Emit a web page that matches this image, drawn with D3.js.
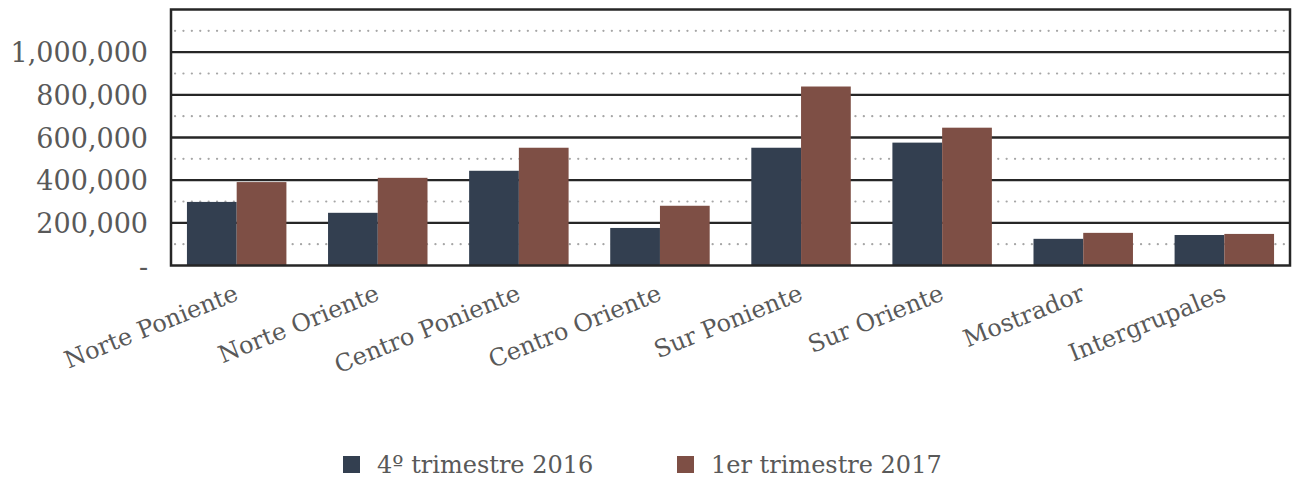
<!DOCTYPE html>
<html>
<head>
<meta charset="utf-8">
<script src="https://cdn.jsdelivr.net/npm/d3@7"></script>
<style>
	body { margin: 0; background: #fff; }
	text { font-family: "DejaVu Serif", serif; fill: #595959; }
</style>
</head>
<body>
<svg id="chart" width="1292" height="479"></svg>
<script>
// Chart data
const categories = ["Norte Poniente", "Norte Oriente", "Centro Poniente", "Centro Oriente",
	"Sur Poniente", "Sur Oriente", "Mostrador", "Intergrupales"]
const seriesNames = ["4º trimestre 2016", "1er trimestre 2017"]
const q4_2016 = [298000, 247000, 444000, 176000, 552000, 576000, 125000, 143000]
const q1_2017 = [391000, 411000, 552000, 280000, 839000, 646000, 153000, 148000]
const yTicks = [0, 200000, 400000, 600000, 800000, 1000000]
const yMinorTicks = [100000, 300000, 500000, 700000, 900000, 1100000]
const colours = ["#333f50", "#7e4f45"]

const margin = { top: 9.5, left: 171, right: 2, bottom: 213.5 }
const width = 1292 - margin.left - margin.right
const height = 479 - margin.top - margin.bottom

const svg = d3.select("#chart")
const g = svg.append("g")
	.attr("transform", `translate(${margin.left}, ${margin.top})`)

const x = d3.scaleBand()
	.domain(categories)
	.range([0, width])
	.paddingInner(0.295)
	.paddingOuter(0.113)

const xSeries = d3.scaleBand()
	.domain(seriesNames)
	.range([0, x.bandwidth()])

const y = d3.scaleLinear()
	.domain([0, 1200000])
	.range([height, 0])

// Dotted minor gridlines
g.append("g")
	.selectAll("line")
	.data(yMinorTicks)
	.join("line")
	.attr("x1", 4)
	.attr("x2", width)
	.attr("y1", d => y(d))
	.attr("y2", d => y(d))
	.attr("stroke", "#a6a6a6")
	.attr("stroke-width", 2.2)
	.attr("stroke-linecap", "round")
	.attr("stroke-dasharray", "0.1 8.3")

// Solid major gridlines
g.append("g")
	.selectAll("line")
	.data(yTicks.slice(1))
	.join("line")
	.attr("x1", 0)
	.attr("x2", width)
	.attr("y1", d => y(d))
	.attr("y2", d => y(d))
	.attr("stroke", "#262626")
	.attr("stroke-width", 2.3)

// Bars
const rows = categories.map((c, i) => ({ category: c, values: [q4_2016[i], q1_2017[i]] }))
g.append("g")
	.selectAll("g")
	.data(rows)
	.join("g")
	.attr("transform", d => `translate(${x(d.category)}, 0)`)
	.selectAll("rect")
	.data(d => d.values.map((v, i) => ({ key: seriesNames[i], value: v, i })))
	.join("rect")
	.attr("x", d => xSeries(d.key))
	.attr("width", xSeries.bandwidth())
	.attr("y", d => y(d.value))
	.attr("height", d => y(0) - y(d.value))
	.attr("fill", d => colours[d.i])

// Plot border
g.append("rect")
	.attr("x", 0)
	.attr("y", 0)
	.attr("width", width)
	.attr("height", height)
	.attr("fill", "none")
	.attr("stroke", "#262626")
	.attr("stroke-width", 2.5)

// Y axis labels
const yAxis = d3.axisLeft(y)
	.tickValues(yTicks)
	.tickSize(0)
	.tickPadding(23)
	.tickFormat(d => d === 0 ? "-" : d3.format(",")(d))
g.append("g")
	.call(yAxis)
	.call(a => a.select(".domain").remove())
	.selectAll("text")
	.attr("font-family", null)
	.attr("font-size", null)
	.style("font-size", "27px")
	.attr("dy", "0.36em")

// X axis labels, rotated
g.append("g")
	.selectAll("text")
	.data(categories)
	.join("text")
	.attr("transform", d => `translate(${x(d) + x.bandwidth() / 2 + 3}, ${height + 34}) rotate(-22)`)
	.attr("text-anchor", "end")
	.style("font-size", "24px")
	.text(d => d)

// Legend
const legend = svg.append("g")
	.selectAll("g")
	.data(seriesNames)
	.join("g")
	.attr("transform", (d, i) => `translate(${343 + i * 334}, 456)`)
legend.append("rect")
	.attr("width", 17)
	.attr("height", 17)
	.attr("fill", (d, i) => colours[i])
legend.append("text")
	.attr("x", 34)
	.attr("y", 17)
	.style("font-size", "24px")
	.text(d => d)
</script>
</body>
</html>
